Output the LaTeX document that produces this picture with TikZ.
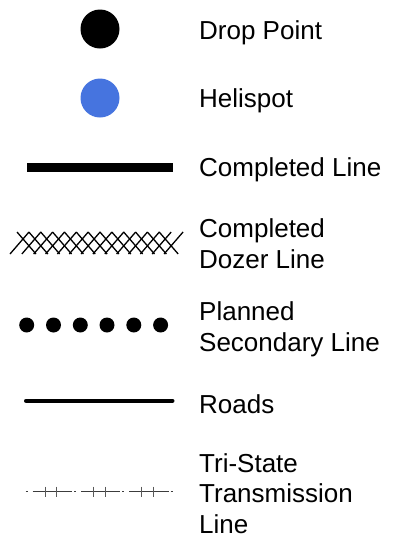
\documentclass[tikz,border=0pt]{standalone}
\usepackage{fontspec}
\setmainfont{Liberation Sans}
\definecolor{heliblue}{RGB}{70,116,223}
\definecolor{tline}{RGB}{60,60,60}
\begin{document}
\begin{tikzpicture}[x=1pt,y=-1pt,
  lbl/.style={anchor=base west, inner sep=0pt, align=left, font=\fontsize{26}{30.5}\selectfont},
  dotsym/.style={circle, inner sep=0pt, minimum size=39pt},
  dozer/.style={line width=1.3pt, black},
  tl/.style={line width=1pt, tline},
  tick/.style={line width=1pt, tline!85}]
\useasboundingbox (0,0) rectangle (409,539);
% symbols
\node[dotsym, fill=black] (drop) at (100,29) {};
\node[dotsym, fill=heliblue] (heli) at (100,98) {};
\fill (26.7,162.7) rectangle (173,171.7);
\foreach \i in {0,...,13} \draw[dozer] (10+\i*11.85,254) -- ++(19,-22);
\foreach \i in {0,...,12} \draw[dozer] (17+\i*11.85,232) -- ++(19,22);
\foreach \x in {26.7,53.5,80.3,107,133.8,160.6} \fill (\x,325) circle (7.5);
\draw[line width=4pt, line cap=round] (26,400.7) -- (172.5,400.7);
\foreach \o in {0,48.3,96.6} {
  \draw[tl] (25.7+\o,491) -- ++(2,0);
  \draw[tl] (32.7+\o,491) -- (72+\o,491);
  \draw[tick] (45+\o,486.5) -- (45+\o,496.5);
  \draw[tick] (56.7+\o,486.5) -- (56.7+\o,496.5);
}
\draw[tl] (170.6,491) -- ++(2,0);
% labels
\node[lbl] (tdrop) at (199,39) {Drop Point};
\node[lbl] (theli) at (199,107) {Helispot};
\node[lbl] (tcomp) at (199,176) {Completed Line};
\node[lbl] (tdoz) at (199,268) {Completed\\Dozer Line};
\node[lbl] (tplan) at (199,351) {Planned\\Secondary Line};
\node[lbl] (troad) at (199,413) {Roads};
\node[lbl] (ttri) at (199,533) {Tri-State\\Transmission\\Line};
\end{tikzpicture}
\end{document}
